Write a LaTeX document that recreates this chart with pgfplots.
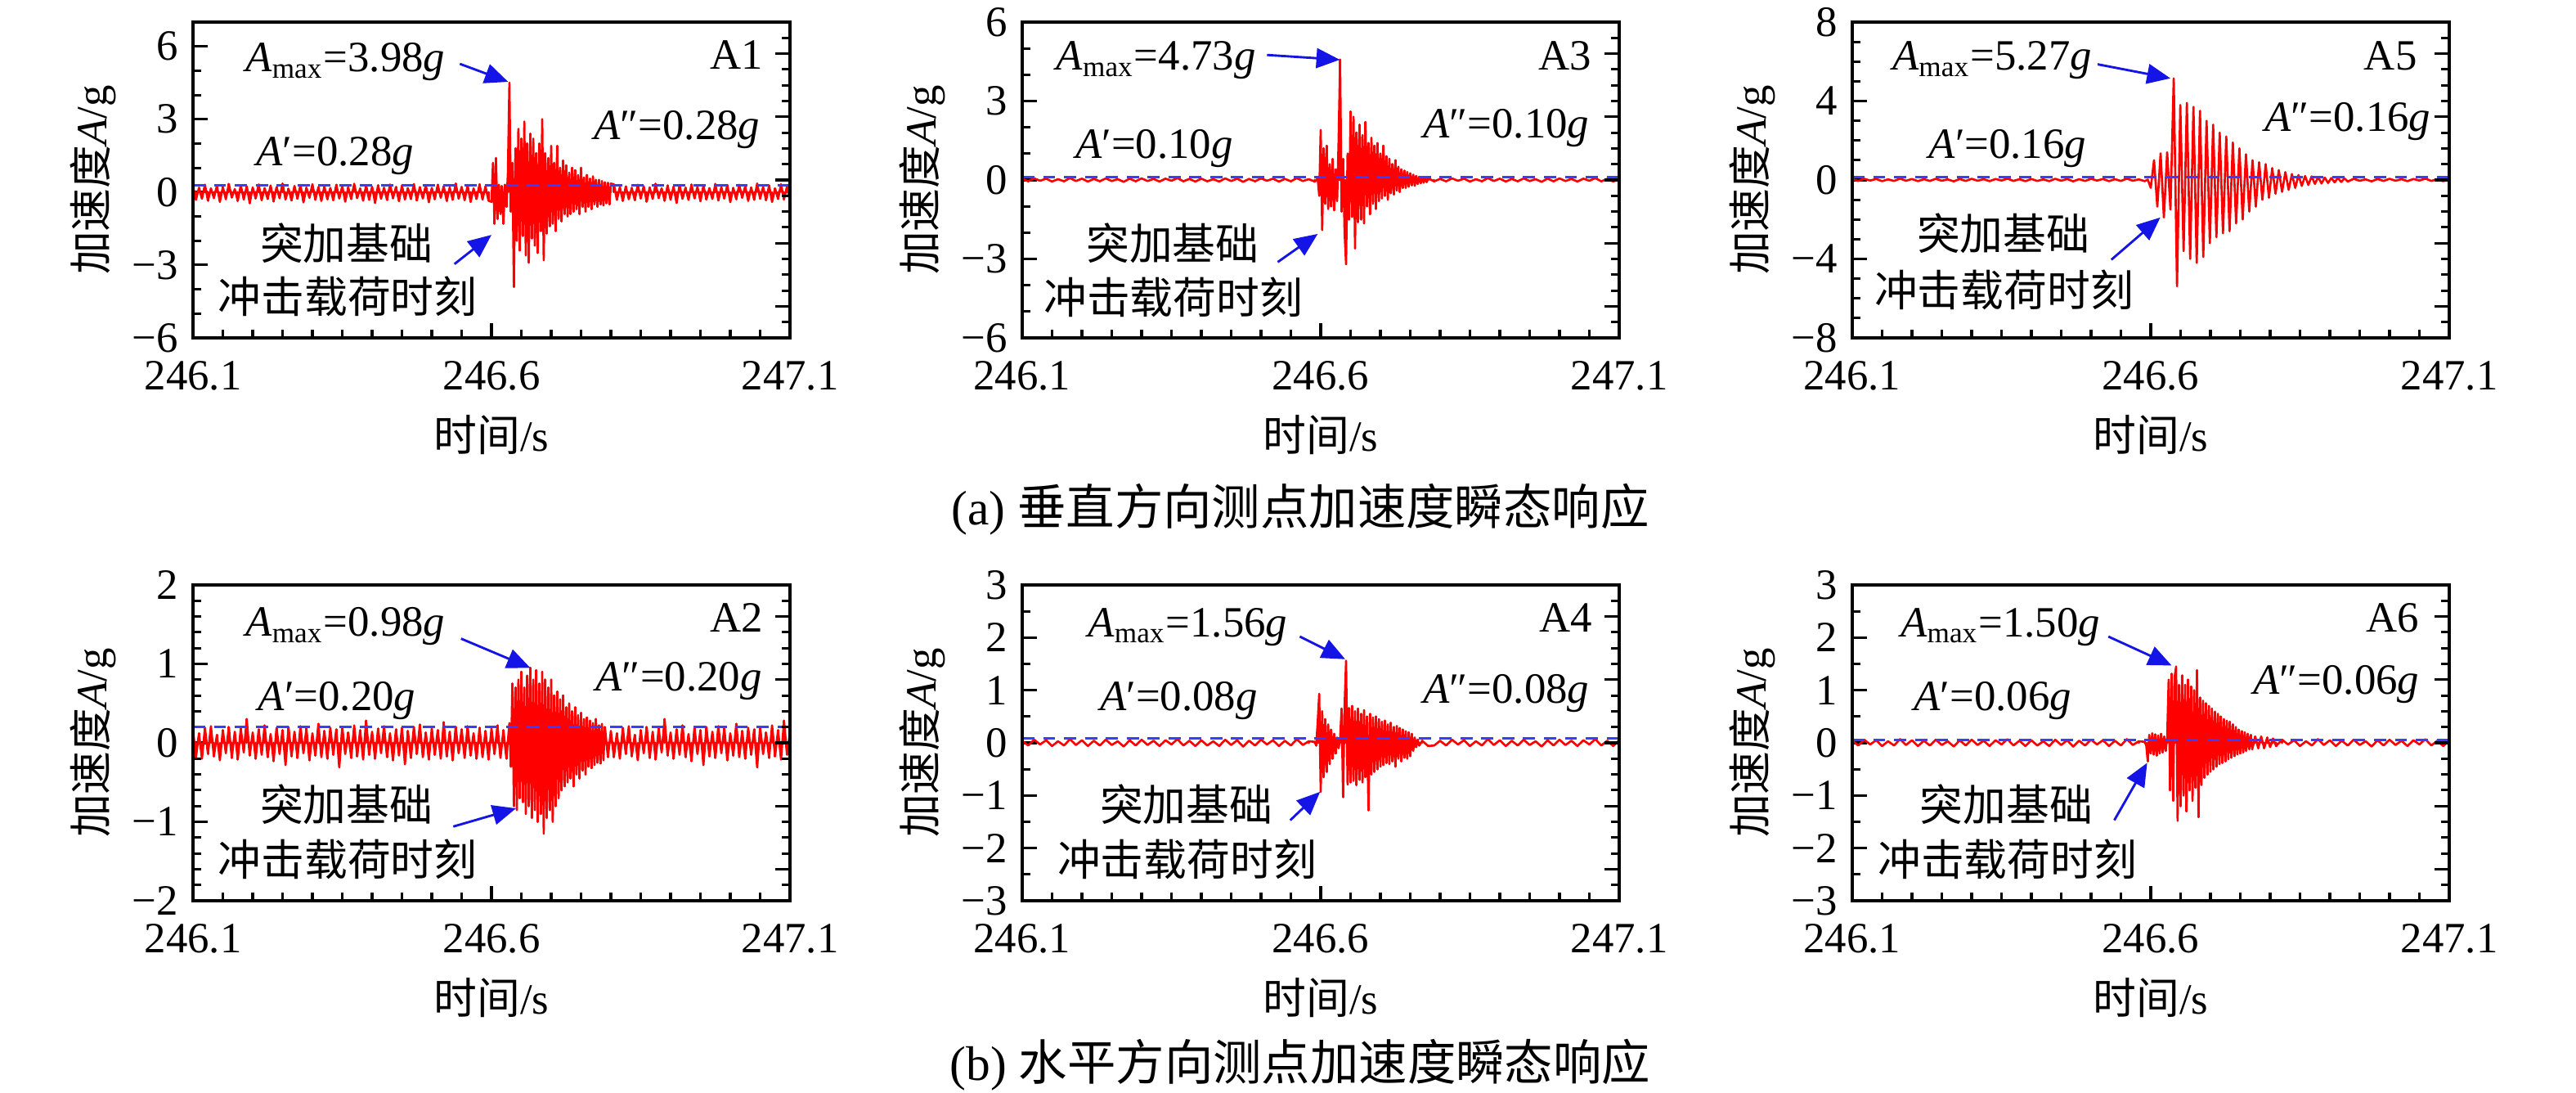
\documentclass[border=0pt]{standalone}
\usepackage{fontspec}
\setmainfont{Liberation Serif}
\newfontfamily\cjk{Noto Sans CJK SC}
\usepackage{pgfplots}
\pgfplotsset{compat=1.18}
\usepackage{pgfplotstable}
\usetikzlibrary{arrows.meta}
\definecolor{sigred}{RGB}{255,0,0}
\definecolor{dashblue}{RGB}{60,60,255}
\definecolor{arrblue}{RGB}{20,20,230}

% quiet segments shared by the small-noise channels
\pgfplotstableread[row sep=\\]{x y\\
246.10 0.04\\ 246.11 -0.05\\ 246.12 0.06\\ 246.13 -0.03\\ 246.14 0.05\\ 246.15 -0.06\\ 246.16 0.03\\ 246.17 -0.05\\ 246.18 0.07\\ 246.19 -0.04\\
246.20 0.05\\ 246.21 -0.06\\ 246.22 0.04\\ 246.23 -0.05\\ 246.24 0.06\\ 246.25 -0.04\\ 246.26 0.03\\ 246.27 -0.07\\ 246.28 0.05\\ 246.29 -0.05\\
246.30 0.06\\ 246.31 -0.04\\ 246.32 0.04\\ 246.33 -0.06\\ 246.34 0.05\\ 246.35 -0.03\\ 246.36 0.07\\ 246.37 -0.05\\ 246.38 0.04\\ 246.39 -0.06\\
246.40 0.05\\ 246.41 -0.05\\ 246.42 0.03\\ 246.43 -0.06\\ 246.44 0.06\\ 246.45 -0.04\\ 246.46 0.05\\ 246.47 -0.07\\ 246.48 0.04\\ 246.49 -0.05\\
246.50 0.06\\ 246.51 -0.03\\ 246.52 0.05\\ 246.53 -0.06\\ 246.54 0.04\\ 246.55 -0.05\\ 246.56 0.07\\ 246.57 -0.04\\ 246.58 0.03\\ 246.59 -0.06\\
}\smallpre

\pgfplotstableread[row sep=\\]{x y\\
246.77 0.04\\ 246.78 -0.06\\ 246.79 -0.05\\ 246.80 0.04\\ 246.81 -0.05\\ 246.82 0.06\\ 246.83 -0.03\\ 246.84 0.05\\ 246.85 -0.06\\ 246.86 0.03\\
246.87 -0.05\\ 246.88 0.07\\ 246.89 -0.04\\ 246.90 0.05\\ 246.91 -0.06\\ 246.92 0.04\\ 246.93 -0.05\\ 246.94 0.06\\ 246.95 -0.04\\ 246.96 0.03\\
246.97 -0.07\\ 246.98 0.05\\ 246.99 -0.05\\ 247.00 0.06\\ 247.01 -0.04\\ 247.02 0.04\\ 247.03 -0.06\\ 247.04 0.05\\ 247.05 -0.03\\ 247.06 0.07\\
247.07 -0.05\\ 247.08 0.04\\ 247.09 -0.06\\ 247.10 0.05\\
}\smallpost

% A1 full record
\pgfplotstableread[row sep=\\]{x y\\
246.100 0.22\\ 246.105 -0.31\\ 246.110 0.18\\ 246.115 -0.27\\ 246.120 0.30\\ 246.125 -0.35\\ 246.130 0.15\\ 246.135 -0.24\\ 246.140 0.26\\ 246.145 -0.40\\
246.150 0.20\\ 246.155 -0.29\\ 246.160 0.33\\ 246.165 -0.22\\ 246.170 0.12\\ 246.175 -0.36\\ 246.180 0.28\\ 246.185 -0.30\\ 246.190 0.24\\ 246.195 -0.45\\
246.200 0.19\\ 246.205 -0.26\\ 246.210 0.31\\ 246.215 -0.33\\ 246.220 0.16\\ 246.225 -0.28\\ 246.230 0.27\\ 246.235 -0.38\\ 246.240 0.21\\ 246.245 -0.25\\
246.250 0.35\\ 246.255 -0.30\\ 246.260 0.14\\ 246.265 -0.34\\ 246.270 0.25\\ 246.275 -0.27\\ 246.280 0.29\\ 246.285 -0.42\\ 246.290 0.18\\ 246.295 -0.23\\
246.300 0.32\\ 246.305 -0.31\\ 246.310 0.20\\ 246.315 -0.36\\ 246.320 0.23\\ 246.325 -0.29\\ 246.330 0.17\\ 246.335 -0.33\\ 246.340 0.30\\ 246.345 -0.26\\
246.350 0.24\\ 246.355 -0.39\\ 246.360 0.19\\ 246.365 -0.28\\ 246.370 0.34\\ 246.375 -0.24\\ 246.380 0.15\\ 246.385 -0.35\\ 246.390 0.27\\ 246.395 -0.31\\
246.400 0.22\\ 246.405 -0.44\\ 246.410 0.28\\ 246.415 -0.27\\ 246.420 0.18\\ 246.425 -0.32\\ 246.430 0.31\\ 246.435 -0.25\\ 246.440 0.21\\ 246.445 -0.37\\
246.450 0.26\\ 246.455 -0.30\\ 246.460 0.16\\ 246.465 -0.28\\ 246.470 0.33\\ 246.475 -0.34\\ 246.480 0.20\\ 246.485 -0.26\\ 246.490 0.29\\ 246.495 -0.41\\
246.500 0.17\\ 246.505 -0.29\\ 246.510 0.30\\ 246.515 -0.23\\ 246.520 0.24\\ 246.525 -0.36\\ 246.530 0.19\\ 246.535 -0.31\\ 246.540 0.35\\ 246.545 -0.27\\
246.550 0.21\\ 246.555 -0.33\\ 246.560 0.27\\ 246.565 -0.40\\ 246.570 0.15\\ 246.575 -0.28\\ 246.580 0.32\\ 246.585 -0.30\\ 246.590 0.23\\ 246.595 -0.35\\
246.6000 -0.40\\ 246.6025 1.20\\ 246.6050 -1.30\\ 246.6075 1.40\\ 246.6100 -1.10\\ 246.6125 0.30\\ 246.6150 -0.90\\ 246.6175 0.25\\ 246.6200 -1.30\\ 246.6225 0.30\\
246.6250 -0.60\\ 246.6275 0.80\\ 246.6300 4.50\\ 246.6325 -0.80\\ 246.6350 1.20\\ 246.6375 -3.90\\ 246.6400 1.80\\ 246.6425 -2.00\\ 246.6450 2.60\\ 246.6475 -2.40\\
246.6500 2.20\\ 246.6525 -1.80\\ 246.6550 2.90\\ 246.6575 -2.60\\ 246.6600 2.00\\ 246.6625 -2.90\\ 246.6650 2.40\\ 246.6675 -1.90\\ 246.6700 2.20\\ 246.6725 -2.20\\
246.6750 1.60\\ 246.6775 -2.50\\ 246.6800 2.00\\ 246.6825 -1.60\\ 246.6850 3.00\\ 246.6875 -2.80\\ 246.6900 1.60\\ 246.6925 -1.70\\ 246.6950 1.40\\ 246.6975 -1.40\\
246.7000 1.90\\ 246.7025 -1.30\\ 246.7050 1.20\\ 246.7075 -1.60\\ 246.7100 1.90\\ 246.7125 -1.10\\ 246.7150 1.00\\ 246.7175 -1.20\\ 246.7200 1.30\\ 246.7225 -0.90\\
246.7250 1.10\\ 246.7275 -1.00\\ 246.7300 0.80\\ 246.7325 -0.90\\ 246.7350 1.00\\ 246.7375 -0.80\\ 246.7400 0.90\\ 246.7425 -0.70\\ 246.7450 0.70\\ 246.7475 -0.90\\
246.7500 1.00\\ 246.7525 -0.60\\ 246.7550 0.60\\ 246.7575 -0.80\\ 246.7600 0.70\\ 246.7625 -0.60\\ 246.7650 0.55\\ 246.7675 -0.70\\ 246.7700 0.65\\ 246.7725 -0.50\\
246.7750 0.50\\ 246.7775 -0.60\\ 246.7800 0.50\\ 246.7825 -0.50\\ 246.7850 0.45\\ 246.7875 -0.55\\ 246.7900 0.40\\ 246.7925 -0.45\\ 246.7950 0.38\\ 246.7975 -0.50\\
246.8000 0.35\\
246.805 0.32\\ 246.810 -0.31\\ 246.815 0.20\\ 246.820 -0.36\\ 246.825 0.23\\ 246.830 -0.29\\ 246.835 0.17\\ 246.840 -0.33\\ 246.845 0.30\\ 246.850 -0.26\\
246.855 0.24\\ 246.860 -0.39\\ 246.865 0.19\\ 246.870 -0.28\\ 246.875 0.34\\ 246.880 -0.24\\ 246.885 0.15\\ 246.890 -0.35\\ 246.895 0.27\\ 246.900 -0.31\\
246.905 0.22\\ 246.910 -0.44\\ 246.915 0.28\\ 246.920 -0.27\\ 246.925 0.18\\ 246.930 -0.32\\ 246.935 0.31\\ 246.940 -0.25\\ 246.945 0.21\\ 246.950 -0.37\\
246.955 0.26\\ 246.960 -0.30\\ 246.965 0.16\\ 246.970 -0.28\\ 246.975 0.33\\ 246.980 -0.34\\ 246.985 0.20\\ 246.990 -0.26\\ 246.995 0.29\\ 247.000 -0.41\\
247.005 0.17\\ 247.010 -0.29\\ 247.015 0.30\\ 247.020 -0.23\\ 247.025 0.24\\ 247.030 -0.36\\ 247.035 0.19\\ 247.040 -0.31\\ 247.045 0.35\\ 247.050 -0.27\\
247.055 0.21\\ 247.060 -0.33\\ 247.065 0.27\\ 247.070 -0.40\\ 247.075 0.15\\ 247.080 -0.28\\ 247.085 0.32\\ 247.090 -0.30\\ 247.095 0.23\\ 247.100 -0.35\\
}\tAone

% A2 full record
\pgfplotstableread[row sep=\\]{x y\\
246.100 0.15\\ 246.105 -0.18\\ 246.110 0.12\\ 246.115 -0.20\\ 246.120 0.19\\ 246.125 -0.14\\ 246.130 0.21\\ 246.135 -0.17\\ 246.140 0.10\\ 246.145 -0.22\\
246.150 0.16\\ 246.155 -0.13\\ 246.160 0.20\\ 246.165 -0.19\\ 246.170 0.14\\ 246.175 -0.21\\ 246.180 0.18\\ 246.185 -0.12\\ 246.190 0.30\\ 246.195 -0.16\\
246.200 0.13\\ 246.205 -0.20\\ 246.210 0.17\\ 246.215 -0.15\\ 246.220 0.22\\ 246.225 -0.18\\ 246.230 0.11\\ 246.235 -0.23\\ 246.240 0.19\\ 246.245 -0.14\\
246.250 0.16\\ 246.255 -0.28\\ 246.260 0.20\\ 246.265 -0.17\\ 246.270 0.14\\ 246.275 -0.19\\ 246.280 0.21\\ 246.285 -0.13\\ 246.290 0.18\\ 246.295 -0.22\\
246.300 0.12\\ 246.305 -0.16\\ 246.310 0.24\\ 246.315 -0.18\\ 246.320 0.15\\ 246.325 -0.20\\ 246.330 0.19\\ 246.335 -0.15\\ 246.340 0.17\\ 246.345 -0.31\\
246.350 0.20\\ 246.355 -0.14\\ 246.360 0.13\\ 246.365 -0.19\\ 246.370 0.22\\ 246.375 -0.17\\ 246.380 0.16\\ 246.385 -0.21\\ 246.390 0.28\\ 246.395 -0.15\\
246.400 0.14\\ 246.405 -0.20\\ 246.410 0.18\\ 246.415 -0.13\\ 246.420 0.21\\ 246.425 -0.18\\ 246.430 0.12\\ 246.435 -0.22\\ 246.440 0.17\\ 246.445 -0.16\\
246.450 0.19\\ 246.455 -0.27\\ 246.460 0.15\\ 246.465 -0.19\\ 246.470 0.20\\ 246.475 -0.14\\ 246.480 0.23\\ 246.485 -0.18\\ 246.490 0.13\\ 246.495 -0.21\\
246.500 0.18\\ 246.505 -0.15\\ 246.510 0.16\\ 246.515 -0.20\\ 246.520 0.26\\ 246.525 -0.17\\ 246.530 0.14\\ 246.535 -0.22\\ 246.540 0.20\\ 246.545 -0.13\\
246.550 0.17\\ 246.555 -0.19\\ 246.560 0.21\\ 246.565 -0.16\\ 246.570 0.12\\ 246.575 -0.20\\ 246.580 0.19\\ 246.585 -0.18\\ 246.590 0.15\\ 246.595 -0.21\\
246.600 0.18\\ 246.605 -0.14\\ 246.610 0.22\\ 246.615 -0.19\\ 246.620 0.16\\ 246.625 -0.20\\
246.6300 0.25\\ 246.6325 -0.30\\ 246.6350 0.75\\ 246.6375 -0.80\\ 246.6400 0.70\\ 246.6425 -0.85\\ 246.6450 0.80\\ 246.6475 -0.70\\ 246.6500 0.90\\ 246.6525 -0.75\\
246.6550 0.70\\ 246.6575 -0.90\\ 246.6600 0.85\\ 246.6625 -0.80\\ 246.6650 0.95\\ 246.6675 -0.95\\ 246.6700 0.80\\ 246.6725 -0.85\\ 246.6750 0.92\\ 246.6775 -1.00\\
246.6800 0.75\\ 246.6825 -0.90\\ 246.6850 0.90\\ 246.6875 -1.15\\ 246.6900 0.80\\ 246.6925 -0.95\\ 246.6950 0.70\\ 246.6975 -0.85\\ 246.7000 0.80\\ 246.7025 -1.00\\
246.7050 0.60\\ 246.7075 -0.80\\ 246.7100 0.65\\ 246.7125 -0.70\\ 246.7150 0.55\\ 246.7175 -0.60\\ 246.7200 0.60\\ 246.7225 -0.55\\ 246.7250 0.45\\ 246.7275 -0.50\\
246.7300 0.50\\ 246.7325 -0.45\\ 246.7350 0.40\\ 246.7375 -0.55\\ 246.7400 0.45\\ 246.7425 -0.40\\ 246.7450 0.35\\ 246.7475 -0.45\\ 246.7500 0.38\\ 246.7525 -0.35\\
246.7550 0.30\\ 246.7575 -0.40\\ 246.7600 0.32\\ 246.7625 -0.30\\ 246.7650 0.28\\ 246.7675 -0.32\\ 246.7700 0.25\\ 246.7725 -0.28\\ 246.7750 0.30\\ 246.7775 -0.25\\
246.7800 0.22\\ 246.7825 -0.26\\ 246.7850 0.24\\ 246.7875 -0.22\\ 246.7900 0.20\\
246.795 -0.18\\ 246.800 0.15\\ 246.805 -0.18\\ 246.810 0.12\\ 246.815 -0.20\\ 246.820 0.19\\ 246.825 -0.14\\ 246.830 0.21\\ 246.835 -0.17\\ 246.840 0.10\\
246.845 -0.22\\ 246.850 0.16\\ 246.855 -0.13\\ 246.860 0.20\\ 246.865 -0.19\\ 246.870 0.14\\ 246.875 -0.21\\ 246.880 0.18\\ 246.885 -0.12\\ 246.890 0.30\\
246.895 -0.16\\ 246.900 0.13\\ 246.905 -0.20\\ 246.910 0.17\\ 246.915 -0.15\\ 246.920 0.22\\ 246.925 -0.18\\ 246.930 0.11\\ 246.935 -0.23\\ 246.940 0.19\\
246.945 -0.14\\ 246.950 0.16\\ 246.955 -0.28\\ 246.960 0.20\\ 246.965 -0.17\\ 246.970 0.14\\ 246.975 -0.19\\ 246.980 0.21\\ 246.985 -0.13\\ 246.990 0.18\\
246.995 -0.22\\ 247.000 0.12\\ 247.005 -0.16\\ 247.010 0.24\\ 247.015 -0.18\\ 247.020 0.15\\ 247.025 -0.20\\ 247.030 0.19\\ 247.035 -0.15\\ 247.040 0.17\\
247.045 -0.31\\ 247.050 0.20\\ 247.055 -0.14\\ 247.060 0.13\\ 247.065 -0.19\\ 247.070 0.22\\ 247.075 -0.17\\ 247.080 0.16\\ 247.085 -0.21\\ 247.090 0.28\\
247.095 -0.15\\ 247.100 0.14\\
}\tAtwo

% A3 event
\pgfplotstableread[row sep=\\]{x y\\
246.59 -0.06\\ 246.5950 0.05\\ 246.5975 -0.60\\ 246.6000 1.90\\ 246.6025 -1.90\\ 246.6050 1.20\\ 246.6075 -0.90\\ 246.6100 1.30\\ 246.6125 -1.10\\ 246.6150 0.60\\ 246.6175 -1.00\\
246.6200 0.80\\ 246.6225 -1.15\\ 246.6250 0.40\\ 246.6275 -0.80\\ 246.6300 1.50\\ 246.6325 4.57\\ 246.6350 -1.20\\ 246.6375 0.80\\ 246.6400 -2.00\\ 246.6425 -3.20\\
246.6450 1.00\\ 246.6475 -1.50\\ 246.6500 2.60\\ 246.6525 -1.40\\ 246.6550 2.40\\ 246.6575 -2.60\\ 246.6600 1.80\\ 246.6625 -1.60\\ 246.6650 2.10\\ 246.6675 -1.50\\
246.6700 1.70\\ 246.6725 -1.65\\ 246.6750 2.20\\ 246.6775 -1.00\\ 246.6800 1.40\\ 246.6825 -1.30\\ 246.6850 1.60\\ 246.6875 -0.90\\ 246.6900 1.30\\ 246.6925 -1.10\\
246.6950 1.40\\ 246.6975 -0.80\\ 246.7000 1.00\\ 246.7025 -0.70\\ 246.7050 1.30\\ 246.7075 -0.60\\ 246.7100 0.90\\ 246.7125 -0.75\\ 246.7150 0.80\\ 246.7175 -0.50\\
246.7200 0.60\\ 246.7225 -0.55\\ 246.7250 0.75\\ 246.7275 -0.40\\ 246.7300 0.50\\ 246.7325 -0.45\\ 246.7350 0.40\\ 246.7375 -0.30\\ 246.7400 0.35\\ 246.7425 -0.30\\
246.7450 0.30\\ 246.7475 -0.25\\ 246.7500 0.25\\ 246.7525 -0.20\\ 246.7550 0.20\\ 246.7575 -0.22\\ 246.7600 0.15\\ 246.7625 -0.15\\ 246.7650 0.12\\ 246.7675 -0.12\\
246.7700 0.10\\ 246.7725 -0.10\\ 246.7750 0.08\\ 246.7775 -0.08\\ 246.7800 0.06\\ 246.79 -0.05\\
}\bAthree

% A5 event
\pgfplotstableread[row sep=\\]{x y\\
246.59 -0.06\\ 246.5950 0.02\\ 246.6000 -0.40\\ 246.6055 1.00\\ 246.6110 -1.35\\ 246.6165 1.35\\ 246.6220 -1.90\\ 246.6275 1.40\\ 246.6330 -1.50\\ 246.6385 5.15\\
246.6440 -5.39\\ 246.6495 3.80\\ 246.6550 -3.60\\ 246.6605 3.90\\ 246.6660 -4.00\\ 246.6715 3.70\\ 246.6770 -4.20\\ 246.6825 3.50\\ 246.6880 -3.90\\ 246.6935 3.00\\
246.6990 -3.20\\ 246.7045 2.80\\ 246.7100 -2.90\\ 246.7155 2.40\\ 246.7210 -2.70\\ 246.7265 2.20\\ 246.7320 -2.60\\ 246.7375 1.90\\ 246.7430 -2.20\\ 246.7485 1.60\\
246.7540 -2.00\\ 246.7595 1.30\\ 246.7650 -1.60\\ 246.7705 1.00\\ 246.7760 -1.35\\ 246.7815 0.90\\ 246.7870 -1.00\\ 246.7925 0.80\\ 246.7980 -0.90\\ 246.8035 0.60\\
246.8090 -0.70\\ 246.8145 0.50\\ 246.8200 -0.60\\ 246.8255 0.40\\ 246.8310 -0.50\\ 246.8365 0.30\\ 246.8420 -0.40\\ 246.8475 0.25\\ 246.8530 -0.30\\ 246.8585 0.20\\
246.8640 -0.25\\ 246.8695 0.18\\ 246.8750 -0.20\\ 246.8805 0.15\\ 246.8860 -0.18\\ 246.8915 0.12\\ 246.8970 -0.15\\ 246.9025 0.10\\ 246.9080 -0.12\\ 246.9135 0.10\\
246.9190 -0.10\\ 246.9245 0.08\\ 246.9300 -0.08\\ 246.94 0.06\\
}\bAfive

% A4 event
\pgfplotstableread[row sep=\\]{x y\\
246.58 0.03\\ 246.5900 0.02\\ 246.5925 -0.05\\ 246.5950 0.40\\ 246.5975 0.93\\ 246.6000 -0.93\\ 246.6025 0.60\\ 246.6050 -0.65\\ 246.6075 0.45\\ 246.6100 -0.55\\ 246.6125 0.35\\
246.6150 -0.40\\ 246.6175 0.25\\ 246.6200 -0.30\\ 246.6225 0.17\\ 246.6250 -0.20\\ 246.6275 0.10\\ 246.6300 -0.10\\ 246.6325 0.08\\ 246.6350 0.65\\ 246.6375 -1.03\\
246.6400 0.69\\ 246.6425 1.56\\ 246.6450 -0.79\\ 246.6475 0.66\\ 246.6500 -0.75\\ 246.6525 0.70\\ 246.6550 -0.72\\ 246.6575 0.60\\ 246.6600 -0.80\\ 246.6625 0.65\\
246.6650 -0.70\\ 246.6675 0.55\\ 246.6700 -0.75\\ 246.6725 0.62\\ 246.6750 -0.65\\ 246.6775 0.50\\ 246.6800 -1.28\\ 246.6825 0.55\\ 246.6850 -0.60\\ 246.6875 0.48\\
246.6900 -0.55\\ 246.6925 0.50\\ 246.6950 -0.50\\ 246.6975 0.45\\ 246.7000 -0.45\\ 246.7025 0.40\\ 246.7050 -0.42\\ 246.7075 0.42\\ 246.7100 -0.38\\ 246.7125 0.35\\
246.7150 -0.40\\ 246.7175 0.38\\ 246.7200 -0.35\\ 246.7225 0.30\\ 246.7250 -0.45\\ 246.7275 0.32\\ 246.7300 -0.30\\ 246.7325 0.28\\ 246.7350 -0.35\\ 246.7375 0.25\\
246.7400 -0.28\\ 246.7425 0.22\\ 246.7450 -0.30\\ 246.7475 0.20\\ 246.7500 -0.25\\ 246.7525 0.17\\ 246.7550 -0.15\\ 246.7575 0.10\\ 246.7600 -0.08\\ 246.7625 0.06\\
246.7650 -0.05\\ 246.77 0.04\\
}\bAfour

% A6 event
\pgfplotstableread[row sep=\\]{x y\\
246.58 0.03\\ 246.5900 0.02\\ 246.5925 -0.05\\ 246.5950 -0.35\\ 246.5975 0.15\\ 246.6000 -0.20\\ 246.6025 0.18\\ 246.6050 -0.22\\ 246.6075 0.16\\ 246.6100 -0.24\\ 246.6125 0.14\\
246.6150 -0.20\\ 246.6175 0.17\\ 246.6200 -0.18\\ 246.6225 0.12\\ 246.6250 -0.15\\ 246.6275 0.10\\ 246.6300 1.20\\ 246.6325 -0.90\\ 246.6350 1.31\\ 246.6375 -1.10\\
246.6400 1.25\\ 246.6425 1.45\\ 246.6450 -1.48\\ 246.6475 1.10\\ 246.6500 -1.20\\ 246.6525 1.28\\ 246.6550 -1.00\\ 246.6575 1.10\\ 246.6600 -1.30\\ 246.6625 1.20\\
246.6650 -0.90\\ 246.6675 1.07\\ 246.6700 -1.10\\ 246.6725 1.00\\ 246.6750 -0.85\\ 246.6775 1.38\\ 246.6800 -1.41\\ 246.6825 0.86\\ 246.6850 -0.80\\ 246.6875 0.80\\
246.6900 -0.66\\ 246.6925 0.75\\ 246.6950 -0.60\\ 246.6975 0.70\\ 246.7000 -0.55\\ 246.7025 0.65\\ 246.7050 -0.50\\ 246.7075 0.59\\ 246.7100 -0.45\\ 246.7125 0.55\\
246.7150 -0.40\\ 246.7175 0.50\\ 246.7200 -0.38\\ 246.7225 0.45\\ 246.7250 -0.35\\ 246.7275 0.42\\ 246.7300 -0.31\\ 246.7325 0.40\\ 246.7350 -0.28\\ 246.7375 0.35\\
246.7400 -0.25\\ 246.7425 0.30\\ 246.7450 -0.22\\ 246.7475 0.25\\ 246.7500 -0.20\\ 246.7525 0.22\\ 246.7550 -0.18\\ 246.7575 0.20\\ 246.7600 -0.15\\ 246.7625 0.17\\
246.7650 -0.12\\ 246.7675 0.15\\ 246.7700 -0.12\\ 246.7750 0.12\\ 246.7800 -0.10\\ 246.7850 0.12\\ 246.7900 -0.10\\ 246.7950 0.10\\ 246.8000 -0.08\\ 246.8050 0.08\\
246.8100 -0.06\\ 246.82 0.06\\
}\bAsix

\pgfplotsset{
 panel/.style={
  scale only axis, width=165.91pt, height=87.73pt, anchor=south west,
  xmin=246.1, xmax=247.1,
  xtick={246.1,246.6,247.1}, xticklabels={246.1,246.6,247.1},
  minor x tick num=9,
  xtick pos=left, ytick pos=left,
  tick align=inside,
  major tick length=4.1pt, minor tick length=2.3pt,
  tick style={line width=0.7pt, black},
  axis line style={line width=0.9pt},
  xticklabel style={yshift=-2.3pt},
  xlabel={{\cjk 时间}/s},
  ylabel={{\cjk 加速度}\textit{A}/g},
  xlabel style={at={(axis description cs:0.5,-0.3083)}, anchor=center},
  ylabel style={at={(axis description cs:-0.1671,0.5)}, anchor=center},
 },
 rticks/.style={
  scale only axis, width=165.91pt, height=87.73pt, anchor=south west,
  xmin=246.1, xmax=247.1, ymin=-10, ymax=10,
  hide x axis,
  ytick={-8,-4,0,4,8}, minor ytick={-9,-7,-6,-5,-3,-2,-1,1,2,3,5,6,7,9},
  yticklabels={}, ytick pos=right, tick align=inside,
  major tick length=4.1pt, minor tick length=2.3pt,
  tick style={line width=0.7pt, black},
  axis line style={line width=0.9pt},
 },
 sigline/.style={sigred, line width=0.6pt, line join=round, line cap=round},
 sigcomb/.style={sigred, line width=0.6pt, line cap=round, ycomb},
 dashl/.style={dashblue, line width=0.7pt, dash pattern=on 3.4pt off 2.4pt},
}
\tikzset{
 arrw/.style={arrblue, line width=0.65pt, -{Triangle[length=6.5pt,width=5.5pt]}},
 lab/.style={inner sep=0pt},
}

\begin{document}
\fontsize{12}{14.4}\selectfont
\begin{tikzpicture}
\useasboundingbox (0,0) rectangle (715.91pt,303.41pt);

% ---------------- A1 ----------------
\begin{axis}[panel, at={(53.64pt,209.55pt)}, ymin=-6, ymax=7,
  ytick={-6,-3,0,3,6}, yticklabels={−6,−3,0,3,6}, minor ytick={-5,-4,-2,-1,1,2,4,5}]
\addplot[sigcomb] table[x=x,y=y] {\tAone};
\addplot[sigline] table[x=x,y=y] {\tAone};
\addplot[dashl] coordinates {(246.1,0.28)(247.1,0.28)};
\node[lab, anchor=base west] at (axis cs:246.187,4.95) {\textit{A}\textsubscript{max}=3.98\textit{g}};
\draw[arrw] (axis cs:246.547,5.28) -- (axis cs:246.628,4.54);
\node[lab, anchor=base east] at (axis cs:247.056,5.06) {A1};
\node[lab, anchor=base west] at (axis cs:246.205,1.09) {\textit{A}′=0.28\textit{g}};
\node[lab, anchor=base east] at (axis cs:247.051,2.15) {\textit{A}″=0.28\textit{g}};
\node at (axis cs:246.357,-2.10) {\cjk 突加基础};
\node at (axis cs:246.359,-4.31) {\cjk 冲击载荷时刻};
\draw[arrw] (axis cs:246.538,-2.96) -- (axis cs:246.600,-1.76);
\end{axis}
\begin{axis}[rticks, at={(53.64pt,209.55pt)}]
\end{axis}

% ---------------- A3 ----------------
\begin{axis}[panel, at={(284.09pt,209.55pt)}, ymin=-6, ymax=6,
  ytick={-6,-3,0,3,6}, yticklabels={−6,−3,0,3,6}, minor ytick={-5,-4,-2,-1,1,2,4,5}]
\addplot[sigline] table[x=x,y=y] {\smallpre};
\addplot[sigcomb] table[x=x,y=y] {\bAthree};
\addplot[sigline] table[x=x,y=y] {\bAthree};
\addplot[sigline, restrict x to domain=246.785:247.11] table[x=x,y=y] {\smallpost};
\addplot[dashl] coordinates {(246.1,0.10)(247.1,0.10)};
\node[lab, anchor=base west] at (axis cs:246.156,4.17) {\textit{A}\textsubscript{max}=4.73\textit{g}};
\draw[arrw] (axis cs:246.510,4.75) -- (axis cs:246.632,4.57);
\node[lab, anchor=base east] at (axis cs:247.054,4.19) {A3};
\node[lab, anchor=base west] at (axis cs:246.188,0.83) {\textit{A}′=0.10\textit{g}};
\node[lab, anchor=base east] at (axis cs:247.051,1.60) {\textit{A}″=0.10\textit{g}};
\node at (axis cs:246.352,-2.41) {\cjk 突加基础};
\node at (axis cs:246.353,-4.45) {\cjk 冲击载荷时刻};
\draw[arrw] (axis cs:246.528,-3.12) -- (axis cs:246.595,-2.05);
\end{axis}
\begin{axis}[rticks, at={(284.09pt,209.55pt)}]
\end{axis}

% ---------------- A5 ----------------
\begin{axis}[panel, at={(514.77pt,209.55pt)}, ymin=-8, ymax=8,
  ytick={-8,-4,0,4,8}, yticklabels={−8,−4,0,4,8}, minor ytick={-7,-6,-5,-3,-2,-1,1,2,3,5,6,7}]
\addplot[sigline] table[x=x,y=y] {\smallpre};
\addplot[sigline] table[x=x,y=y] {\bAfive};
\addplot[sigline, restrict x to domain=246.935:247.11] table[x=x,y=y] {\smallpost};
\addplot[dashl] coordinates {(246.1,0.16)(247.1,0.16)};
\node[lab, anchor=base west] at (axis cs:246.166,5.59) {\textit{A}\textsubscript{max}=5.27\textit{g}};
\draw[arrw] (axis cs:246.511,5.86) -- (axis cs:246.633,5.15);
\node[lab, anchor=base east] at (axis cs:247.047,5.59) {A5};
\node[lab, anchor=base west] at (axis cs:246.227,1.11) {\textit{A}′=0.16\textit{g}};
\node[lab, anchor=base east] at (axis cs:247.070,2.46) {\textit{A}″=0.16\textit{g}};
\node at (axis cs:246.353,-2.69) {\cjk 突加基础};
\node at (axis cs:246.354,-5.55) {\cjk 冲击载荷时刻};
\draw[arrw] (axis cs:246.534,-4.04) -- (axis cs:246.616,-1.90);
\end{axis}
\begin{axis}[rticks, at={(514.77pt,209.55pt)}]
\end{axis}

% ---------------- A2 ----------------
\begin{axis}[panel, at={(53.64pt,53.18pt)}, ymin=-2, ymax=2,
  ytick={-2,-1,0,1,2}, yticklabels={−2,−1,0,1,2},
  minor ytick={-1.8,-1.6,-1.4,-1.2,-0.8,-0.6,-0.4,-0.2,0.2,0.4,0.6,0.8,1.2,1.4,1.6,1.8}]
\addplot[sigcomb] table[x=x,y=y] {\tAtwo};
\addplot[sigline] table[x=x,y=y] {\tAtwo};
\addplot[dashl] coordinates {(246.1,0.20)(247.1,0.20)};
\node[lab, anchor=base west] at (axis cs:246.187,1.35) {\textit{A}\textsubscript{max}=0.98\textit{g}};
\draw[arrw] (axis cs:246.549,1.32) -- (axis cs:246.665,0.95);
\node[lab, anchor=base east] at (axis cs:247.056,1.40) {A2};
\node[lab, anchor=base west] at (axis cs:246.208,0.41) {\textit{A}′=0.20\textit{g}};
\node[lab, anchor=base east] at (axis cs:247.054,0.66) {\textit{A}″=0.20\textit{g}};
\node at (axis cs:246.357,-0.78) {\cjk 突加基础};
\node at (axis cs:246.359,-1.47) {\cjk 冲击载荷时刻};
\draw[arrw] (axis cs:246.536,-1.06) -- (axis cs:246.641,-0.83);
\end{axis}
\begin{axis}[rticks, at={(53.64pt,53.18pt)}]
\end{axis}

% ---------------- A4 ----------------
\begin{axis}[panel, at={(284.09pt,53.18pt)}, ymin=-3, ymax=3,
  ytick={-3,-2,-1,0,1,2,3}, yticklabels={−3,−2,−1,0,1,2,3}, minor ytick={-2.5,-1.5,-0.5,0.5,1.5,2.5}]
\addplot[sigline, restrict x to domain=246.09:246.585] table[x=x,y=y] {\smallpre};
\addplot[sigcomb] table[x=x,y=y] {\bAfour};
\addplot[sigline] table[x=x,y=y] {\bAfour};
\addplot[sigline, restrict x to domain=246.765:247.11] table[x=x,y=y] {\smallpost};
\addplot[dashl] coordinates {(246.1,0.08)(247.1,0.08)};
\node[lab, anchor=base west] at (axis cs:246.209,2.02) {\textit{A}\textsubscript{max}=1.56\textit{g}};
\draw[arrw] (axis cs:246.565,2.02) -- (axis cs:246.641,1.59);
\node[lab, anchor=base east] at (axis cs:247.056,2.10) {A4};
\node[lab, anchor=base west] at (axis cs:246.229,0.62) {\textit{A}′=0.08\textit{g}};
\node[lab, anchor=base east] at (axis cs:247.051,0.76) {\textit{A}″=0.08\textit{g}};
\node at (axis cs:246.375,-1.17) {\cjk 突加基础};
\node at (axis cs:246.376,-2.21) {\cjk 冲击载荷时刻};
\draw[arrw] (axis cs:246.549,-1.47) -- (axis cs:246.599,-0.93);
\end{axis}
\begin{axis}[rticks, at={(284.09pt,53.18pt)}]
\end{axis}

% ---------------- A6 ----------------
\begin{axis}[panel, at={(514.77pt,53.18pt)}, ymin=-3, ymax=3,
  ytick={-3,-2,-1,0,1,2,3}, yticklabels={−3,−2,−1,0,1,2,3}, minor ytick={-2.5,-1.5,-0.5,0.5,1.5,2.5}]
\addplot[sigline, restrict x to domain=246.09:246.585] table[x=x,y=y] {\smallpre};
\addplot[sigcomb] table[x=x,y=y] {\bAsix};
\addplot[sigline] table[x=x,y=y] {\bAsix};
\addplot[sigline, restrict x to domain=246.815:247.11] table[x=x,y=y] {\smallpost};
\addplot[dashl] coordinates {(246.1,0.06)(247.1,0.06)};
\node[lab, anchor=base west] at (axis cs:246.180,2.02) {\textit{A}\textsubscript{max}=1.50\textit{g}};
\draw[arrw] (axis cs:246.529,2.02) -- (axis cs:246.635,1.47);
\node[lab, anchor=base east] at (axis cs:247.051,2.10) {A6};
\node[lab, anchor=base west] at (axis cs:246.202,0.62) {\textit{A}′=0.06\textit{g}};
\node[lab, anchor=base east] at (axis cs:247.051,0.93) {\textit{A}″=0.06\textit{g}};
\node at (axis cs:246.358,-1.17) {\cjk 突加基础};
\node at (axis cs:246.360,-2.21) {\cjk 冲击载荷时刻};
\draw[arrw] (axis cs:246.539,-1.47) -- (axis cs:246.594,-0.38);
\end{axis}
\begin{axis}[rticks, at={(514.77pt,53.18pt)}]
\end{axis}

% captions
\node[font=\fontsize{13.5}{16}\selectfont] at (361.36pt,161.82pt) {(a) {\cjk 垂直方向测点加速度瞬态响应}};
\node[font=\fontsize{13.5}{16}\selectfont] at (361.36pt,7.6pt) {(b) {\cjk 水平方向测点加速度瞬态响应}};
\end{tikzpicture}
\end{document}
